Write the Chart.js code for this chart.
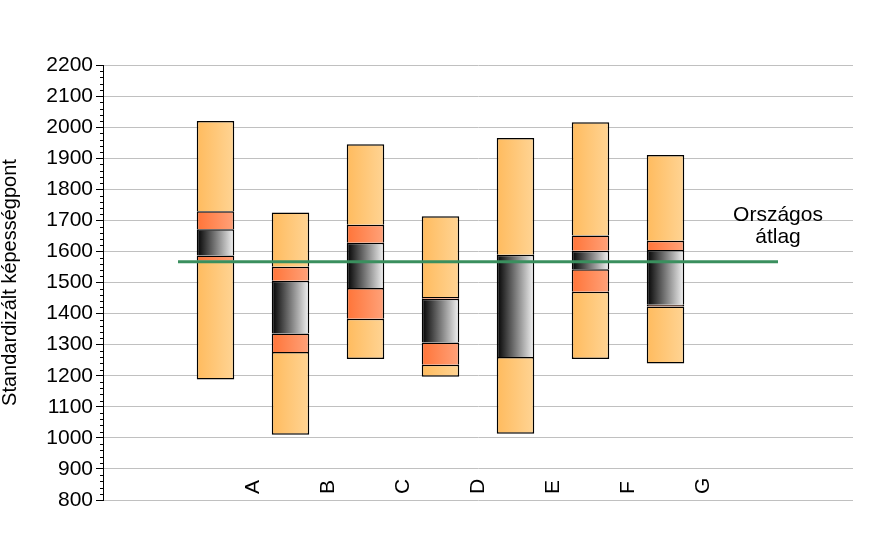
<!DOCTYPE html>
<html>
<head>
<meta charset="utf-8">
<script src="https://cdn.jsdelivr.net/npm/chart.js@4/dist/chart.umd.min.js"></script>
<style>
  body { margin: 0; background: #fff; }
</style>
</head>
<body>
<canvas id="graphique" width="887" height="537"></canvas>
<script>
// Adatok
const categories = ['A', 'B', 'C', 'D', 'E', 'F', 'G'];
const minimum   = [1188, 1010, 1254, 1197, 1013, 1254, 1239];
const lowBand   = [1570, 1276, 1383, 1235, 1260, 1470, 1423];
const ciLow     = [1587, 1336, 1482, 1307, 1260, 1543, 1428];
const ciHigh    = [1671, 1506, 1628, 1448, 1589, 1602, 1605];
const highBand  = [1729, 1551, 1686, 1453, 1589, 1651, 1634];
const maximum   = [2020, 1725, 1945, 1713, 1965, 2016, 1910];
const nationalAverage = 1567;
const yTicks = { min: 800, max: 2200, step: 100, minorStep: 20 };

const FONT = 'Arial, "Liberation Sans", sans-serif';

// horizontal gradient across one bar
function barGradient(c0, c1) {
  return (ctx) => {
    const chart = ctx.chart;
    const xs = chart.scales.x;
    if (!xs || !chart.chartArea || !ctx.raw) return c0;
    const cx = xs.getPixelForValue(ctx.raw.x);
    const half = (xs.getPixelForValue(1) - xs.getPixelForValue(0)) * 0.25;
    const g = chart.ctx.createLinearGradient(cx - half, 0, cx + half, 0);
    g.addColorStop(0, c0);
    g.addColorStop(1, c1);
    return g;
  };
}

const orange = barGradient('#ffbb5e', '#ffd494');
const salmon = barGradient('#ff7438', '#ffa27a');
const dark = barGradient('#000000', '#f4f4f4');

// a legalsó szegmensnek van alsó kerete is, a többinek csak felső
function segment(lows, highs, bg, first) {
  return {
    type: 'bar',
    data: categories.map((c, i) => ({ x: i + 1.5, y: [lows[i], highs[i]] })),
    backgroundColor: bg,
    borderColor: '#000',
    borderWidth: { top: 1.5, left: 1.5, right: 1.5, bottom: first ? 1.5 : 0 },
    borderSkipped: false,
    barPercentage: 0.5,
    categoryPercentage: 1,
    order: 1
  };
}

// kategória feliratok, elforgatva
const labelPlugin = {
  id: 'labels',
  afterDraw(chart) {
    const { ctx, scales } = chart;
    ctx.save();
    ctx.fillStyle = '#000';
    ctx.font = '21px ' + FONT;
    ctx.textAlign = 'left';
    ctx.textBaseline = 'middle';
    categories.forEach((c, i) => {
      ctx.save();
      ctx.translate(scales.x.getPixelForValue(i + 2), scales.y.bottom - 6);
      ctx.rotate(-Math.PI / 2);
      ctx.fillText(c, 0, 0);
      ctx.restore();
    });

    // Országos átlag felirat
    const ax = scales.x.getPixelForValue(9);
    const ay = scales.y.getPixelForValue(nationalAverage);
    ctx.textAlign = 'center';
    ctx.fillText('Országos', ax, ay - 46);
    ctx.fillText('átlag', ax, ay - 24);

    // kis osztások az y tengelyen
    ctx.strokeStyle = '#000';
    ctx.lineWidth = 1;
    const left = scales.y.right;
    for (let v = yTicks.min; v <= yTicks.max; v += yTicks.minorStep) {
      if (v % yTicks.step === 0) continue;
      const y = Math.round(scales.y.getPixelForValue(v)) + 0.5;
      ctx.beginPath();
      ctx.moveTo(left - 3, y);
      ctx.lineTo(left, y);
      ctx.stroke();
    }
    ctx.restore();
  }
};

new Chart(document.getElementById('graphique'), {
  data: {
    datasets: [
      segment(minimum, lowBand, orange, true),
      segment(lowBand, ciLow, salmon),
      segment(ciLow, ciHigh, dark),
      segment(ciHigh, highBand, salmon),
      segment(highBand, maximum, orange),
      {
        type: 'line',
        data: [{ x: 1, y: nationalAverage }, { x: 9, y: nationalAverage }],
        borderColor: '#3a8f5e',
        borderWidth: 3,
        pointRadius: 0,
        order: 0
      }
    ]
  },
  options: {
    responsive: false,
    animation: false,
    devicePixelRatio: 1,
    layout: { padding: { top: 65, bottom: 37, right: 34, left: 0 } },
    plugins: { legend: { display: false }, tooltip: { enabled: false } },
    scales: {
      x: {
        type: 'linear',
        min: 0,
        max: 10,
        offset: false,
        stacked: true,
        display: false,
        ticks: { stepSize: 1 }
      },
      y: {
        type: 'linear',
        min: yTicks.min,
        max: yTicks.max,
        stacked: false,
        afterFit: (scale) => { scale.width = 103; },
        ticks: {
          stepSize: yTicks.step,
          color: '#000',
          font: { family: FONT, size: 21 },
          padding: 3,
          callback: (v) => String(v)
        },
        grid: { color: '#c0c0c0', tickColor: '#000', tickLength: 7 },
        border: { color: '#000', width: 1 },
        title: {
          display: true,
          text: 'Standardizált képességpont',
          color: '#000',
          font: { family: FONT, size: 20, lineHeight: 1 },
          padding: 0
        }
      }
    }
  },
  plugins: [labelPlugin]
});
</script>
</body>
</html>
